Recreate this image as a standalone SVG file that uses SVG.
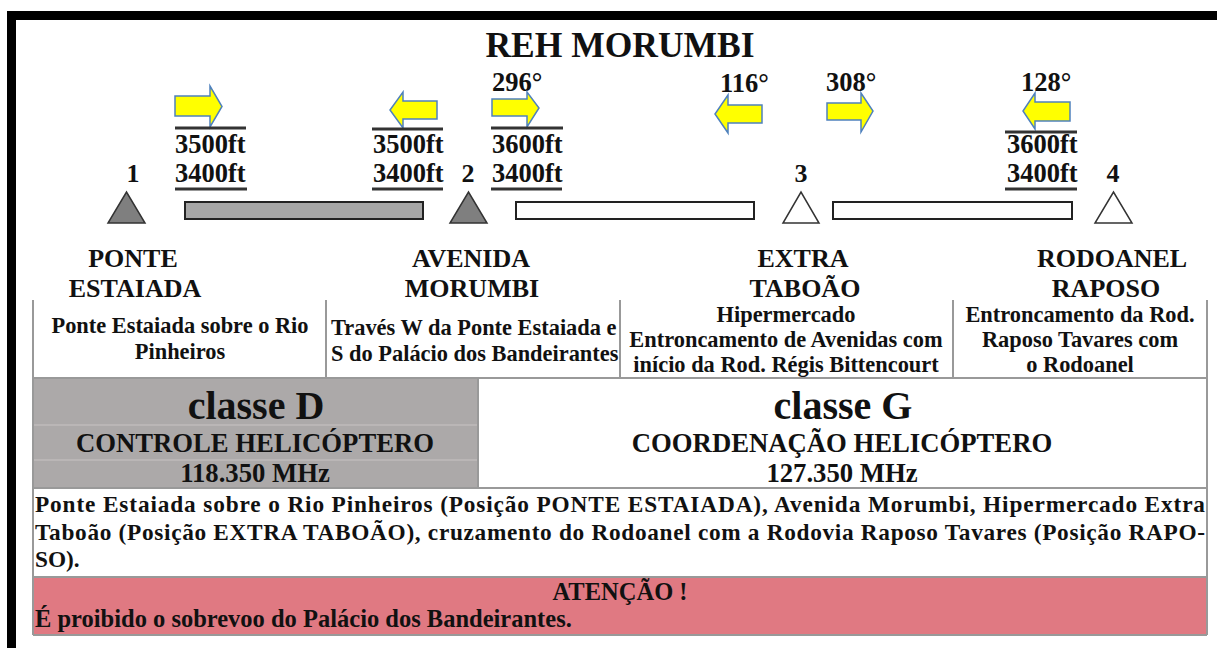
<svg xmlns="http://www.w3.org/2000/svg" width="1217" height="648" viewBox="0 0 1217 648">
<style>
text{font-family:"Liberation Serif","Times New Roman",serif;font-weight:bold;fill:#111}
.t{font-size:35.5px}
.alt{font-size:26.5px}
.lab{font-size:26px;text-anchor:middle}
.num{font-size:26px;text-anchor:middle}
.desc{font-size:22.4px}
.mid{text-anchor:middle}
.cls{font-size:40px;text-anchor:middle}
.sub{font-size:26.7px;text-anchor:middle}
.par{font-size:23.3px}
.warn{font-size:24.5px}
.arr{fill:#FFFF00;stroke:#4F81BD;stroke-width:1.5;stroke-linejoin:miter}
.bar{stroke:#222;stroke-width:2}
.tri{stroke:#333;stroke-width:1.5}
.rule{stroke:#333;stroke-width:3}
.grid{stroke:#999;stroke-width:2;fill:none}
.faint{stroke:#BEBBBB;stroke-width:1.5;fill:none}
</style>
<rect x="0" y="0" width="1217" height="648" fill="#fff"/>
<rect x="7" y="11" width="1210" height="9" fill="#000"/>
<rect x="7" y="11" width="9" height="637" fill="#000"/>
<text class="t" x="620" y="57" text-anchor="middle">REH MORUMBI</text>

<g id="connectors">
<rect class="bar" x="185" y="202" width="238" height="17" fill="#A6A6A6"/>
<rect class="bar" x="516" y="202" width="238" height="17" fill="#fff"/>
<rect class="bar" x="833" y="202" width="239" height="17" fill="#fff"/>
</g>

<g id="route-1-2">
<polygon class="arr" points="175,96 210,96 210,86 222,106.5 210,127 210,116 175,116"/>
<line class="rule" x1="175" y1="128" x2="246" y2="128"/>
<text class="alt" x="175" y="153">3500ft</text>
<text class="alt" x="175" y="182">3400ft</text>
<line class="rule" x1="175" y1="189" x2="247" y2="189"/>
</g>
<g id="route-2-1">
<polygon class="arr" points="437,101 403,101 403,92 390,110 403,128 403,119 437,119"/>
<line class="rule" x1="372" y1="129" x2="443" y2="129"/>
<text class="alt" x="373" y="153">3500ft</text>
<text class="alt" x="373" y="182">3400ft</text>
<line class="rule" x1="372" y1="189" x2="443" y2="189"/>
</g>
<g id="route-2-3">
<text class="alt" x="492" y="91">296°</text>
<polygon class="arr" points="492,99 527,99 527,92 539,108 527,127 527,116 492,116"/>
<line class="rule" x1="491" y1="128" x2="563" y2="128"/>
<text class="alt" x="492" y="153">3600ft</text>
<text class="alt" x="492" y="182">3400ft</text>
<line class="rule" x1="491" y1="189" x2="562" y2="189"/>
</g>
<g id="route-3-2">
<text class="alt" x="720" y="92">116°</text>
<polygon class="arr" points="762,105 728,105 728,95 715,114 728,133 728,123 762,123"/>
</g>
<g id="route-3-4">
<text class="alt" x="826" y="91">308°</text>
<polygon class="arr" points="827,103 861,103 861,93 873,111 861,132 861,120 827,120"/>
</g>
<g id="route-4-3">
<text class="alt" x="1021" y="91">128°</text>
<polygon class="arr" points="1070,102 1035,102 1035,93 1023,111 1035,129 1035,121 1070,121"/>
<line class="rule" x1="1005" y1="132" x2="1077" y2="132"/>
<text class="alt" x="1007" y="153">3600ft</text>
<text class="alt" x="1007" y="182">3400ft</text>
<line class="rule" x1="1005" y1="189" x2="1077" y2="189"/>
</g>

<g id="node-1">
<text class="num" x="133" y="182">1</text>
<polygon class="tri" points="108,223 145,223 126.5,192" fill="#7F7F7F"/>
<text class="lab" x="133" y="267">PONTE</text>
<text class="lab" x="135" y="297">ESTAIADA</text>
</g>
<g id="node-2">
<text class="num" x="468" y="182">2</text>
<polygon class="tri" points="450,223 487,223 468.5,192" fill="#7F7F7F"/>
<text class="lab" x="471" y="267">AVENIDA</text>
<text class="lab" x="472" y="297">MORUMBI</text>
</g>
<g id="node-3">
<text class="num" x="801" y="182">3</text>
<polygon class="tri" points="783,223 819,223 801,192" fill="#fff"/>
<text class="lab" x="803" y="267">EXTRA</text>
<text class="lab" x="805" y="297">TABOÃO</text>
</g>
<g id="node-4">
<text class="num" x="1113" y="182">4</text>
<polygon class="tri" points="1095,223 1132,223 1113.5,192" fill="#fff"/>
<text class="lab" x="1112" y="267">RODOANEL</text>
<text class="lab" x="1106" y="297">RAPOSO</text>
</g>

<g id="table">
<rect x="33" y="379" width="445" height="109" fill="#ACA9A9"/>
<path class="faint" d="M34 425H477M34 460H477"/>
<rect x="33" y="577" width="1174" height="58" fill="#E07982"/>
<path class="grid" d="M33 300V635M1207 300V635M326 300V378M620 300V378M953 300V378M33 378H1207M478 378V488M33 488H1207M33 577H1207M33 635H1207"/>
<text class="desc mid" x="180" y="333">Ponte Estaiada sobre o Rio</text>
<text class="desc mid" x="180" y="359">Pinheiros</text>
<text class="desc" x="331" y="335">Través W da Ponte Estaiada e</text>
<text class="desc" x="331" y="361">S do Palácio dos Bandeirantes</text>
<text class="desc mid" x="786" y="322">Hipermercado</text>
<text class="desc mid" x="786" y="347">Entroncamento de Avenidas com</text>
<text class="desc mid" x="786" y="372">início da Rod. Régis Bittencourt</text>
<text class="desc mid" x="1080" y="322">Entroncamento da Rod.</text>
<text class="desc mid" x="1080" y="347">Raposo Tavares com</text>
<text class="desc mid" x="1080" y="372">o Rodoanel</text>
<text class="cls" x="256" y="419">classe D</text>
<text class="sub" x="255" y="452">CONTROLE HELICÓPTERO</text>
<text class="sub" x="255" y="482">118.350 MHz</text>
<text class="cls" x="843" y="419">classe G</text>
<text class="sub" x="842" y="452">COORDENAÇÃO HELICÓPTERO</text>
<text class="sub" x="842" y="482">127.350 MHz</text>
<text class="par" x="35" y="512" textLength="1170" lengthAdjust="spacing">Ponte Estaiada sobre o Rio Pinheiros (Posição PONTE ESTAIADA), Avenida Morumbi, Hipermercado Extra</text>
<text class="par" x="35" y="540" textLength="1170" lengthAdjust="spacing">Taboão (Posição EXTRA TABOÃO), cruzamento do Rodoanel com a Rodovia Raposo Tavares (Posição RAPO-</text>
<text class="par" x="35" y="567">SO).</text>
<text class="warn mid" x="620" y="600">ATENÇÃO !</text>
<text class="warn" x="35" y="627">É proibido o sobrevoo do Palácio dos Bandeirantes.</text>
</g>
</svg>
